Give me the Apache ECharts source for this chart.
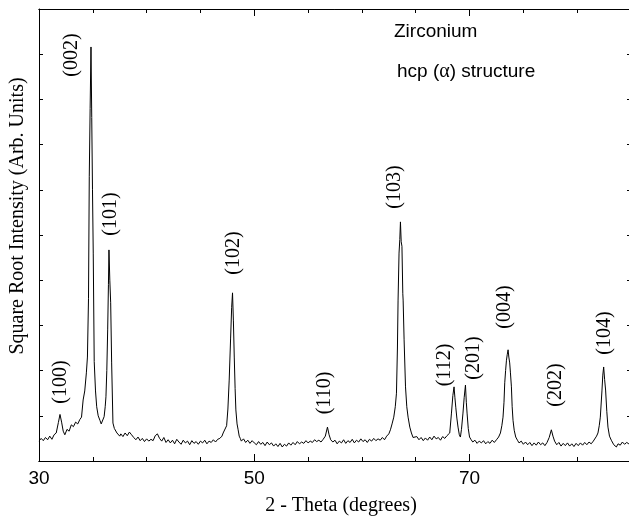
<!DOCTYPE html>
<html>
<head>
<meta charset="utf-8">
<title>Zirconium XRD</title>
<script src="https://cdn.jsdelivr.net/npm/echarts@6/dist/echarts.min.js"></script>
<style>
  html, body { margin: 0; padding: 0; background: #fff; }
  #chart { width: 629px; height: 521px; }
</style>
</head>
<body>
<div id="chart"></div>
<script>
// scan: [2-theta, sqrt intensity]
var scanLow = [
  [30.0,0.44],[30.2,0.50],[30.4,0.45],[30.6,0.52],[30.8,0.47],[31.0,0.55],[31.2,0.48],
  [31.4,0.58],[31.6,0.62],[31.8,0.85],[31.95,1.03],[32.1,0.86],[32.25,0.66],[32.4,0.58],
  [32.6,0.70],[32.8,0.66],[33.0,0.80],[33.2,0.76],[33.4,0.86],[33.6,0.82],[33.8,0.92],
  [33.95,0.97],[34.1,1.35],[34.25,1.55],[34.4,1.95],[34.5,2.3],[34.6,3.6],[34.67,6.3],
  [34.75,7.8],[34.83,9.16],[34.9,7.6],[34.97,6.0],[35.04,4.6],[35.13,2.2],[35.25,1.55],
  [35.36,1.2],[35.5,1.0],[35.66,0.9],[35.78,0.82],[35.85,0.78],[35.95,0.86],[36.05,0.98],
  [36.15,1.2],[36.22,1.42],[36.3,2.0],[36.38,2.9],[36.45,3.9],[36.5,4.67],[36.58,4.0],
  [36.66,3.5],[36.75,2.17],[36.87,0.84],[37.0,0.72],[37.1,0.70],[37.24,0.62],[37.4,0.58],
  [37.5,0.55],[37.6,0.60],[37.8,0.54],[38.0,0.62],[38.2,0.56],[38.4,0.64],[38.6,0.58],
  [38.8,0.52],[39.0,0.47],[39.2,0.53],[39.4,0.45],[39.6,0.50],[39.8,0.43]
];
var scanMid = [
  [40.0,0.49],[40.2,0.44],[40.4,0.48],[40.6,0.45],[40.8,0.56],[41.0,0.60],[41.2,0.50],
  [41.4,0.44],[41.6,0.52],[41.8,0.41],[42.0,0.47],[42.2,0.40],[42.4,0.46],[42.6,0.38],
  [42.8,0.48],[43.0,0.42],[43.2,0.37],[43.4,0.46],[43.6,0.40],[43.8,0.44],[44.0,0.36],
  [44.2,0.45],[44.4,0.39],[44.6,0.43],[44.8,0.37],[45.0,0.44],[45.2,0.40],[45.4,0.46],
  [45.6,0.38],[45.8,0.44],[46.0,0.41],[46.2,0.47],[46.4,0.42],[46.6,0.48],[46.8,0.50],
  [47.0,0.55],[47.11,0.62],[47.25,0.66],[47.43,0.78],[47.55,1.15],[47.67,1.79],[47.8,2.7],
  [47.9,3.4],[47.98,3.72],[48.06,3.1],[48.14,2.3],[48.22,1.6],[48.29,1.13],[48.4,0.82],
  [48.5,0.69],[48.6,0.55],[48.7,0.50],[48.8,0.44],[49.0,0.49],[49.2,0.41],[49.4,0.46],
  [49.6,0.39],[49.8,0.45],[50.0,0.40],[50.2,0.36],[50.4,0.43],[50.6,0.37],[50.8,0.41],
  [51.0,0.34],[51.2,0.42],[51.4,0.36],[51.6,0.40],[51.8,0.33],[52.0,0.38],[52.2,0.32],
  [52.4,0.39],[52.6,0.31],[52.8,0.37],[53.0,0.33],[53.2,0.40],[53.4,0.35],[53.6,0.41],
  [53.8,0.36],[54.0,0.43],[54.2,0.38],[54.4,0.42],[54.6,0.39],[54.8,0.45],[55.0,0.40],
  [55.2,0.44],[55.4,0.41],[55.6,0.47],[55.8,0.43],[56.0,0.46],[56.2,0.42],[56.4,0.48],
  [56.6,0.55],[56.8,0.75],[56.95,0.58],[57.1,0.47],[57.3,0.42],[57.5,0.46],[57.7,0.38],
  [57.9,0.44],[58.1,0.40],[58.3,0.47],[58.5,0.39],[58.7,0.45],[58.9,0.41],[59.1,0.48],
  [59.3,0.40],[59.5,0.46],[59.7,0.42],[59.9,0.49]
];
var scanHigh = [
  [60.1,0.43],[60.3,0.47],[60.5,0.41],[60.7,0.48],[60.9,0.44],[61.1,0.50],[61.3,0.45],
  [61.5,0.49],[61.7,0.46],[61.9,0.52],[62.1,0.47],[62.3,0.55],[62.5,0.60],[62.65,0.69],
  [62.8,0.82],[62.96,0.97],[63.1,1.2],[63.21,1.5],[63.3,2.5],[63.36,3.56],[63.45,4.6],
  [63.52,4.9],[63.58,5.29],[63.65,4.85],[63.72,4.75],[63.8,3.7],[63.83,3.56],[63.92,2.68],
  [64.05,1.64],[64.17,1.2],[64.29,0.97],[64.45,0.75],[64.6,0.62],[64.75,0.52],[64.9,0.48],
  [65.1,0.54],[65.3,0.47],[65.5,0.52],[65.7,0.45],[65.9,0.51],[66.1,0.46],[66.3,0.53],
  [66.5,0.47],[66.7,0.55],[66.9,0.49],[67.1,0.52],[67.3,0.46],[67.5,0.54],[67.7,0.50],
  [67.9,0.56],[68.05,0.58],[68.16,0.62],[68.32,1.06],[68.45,1.45],[68.56,1.64],[68.64,1.4],
  [68.72,1.19],[68.82,0.95],[68.93,0.75],[69.05,0.58],[69.15,0.53],[69.25,0.70],[69.39,1.06],
  [69.5,1.4],[69.62,1.68],[69.7,1.3],[69.77,1.06],[69.88,0.72],[70.0,0.53],[70.15,0.47],
  [70.3,0.42],[70.5,0.46],[70.7,0.39],[70.9,0.44],[71.1,0.40],[71.3,0.45],[71.5,0.38],
  [71.7,0.43],[71.9,0.39],[72.1,0.46],[72.3,0.41],[72.5,0.47],[72.7,0.53],[72.87,0.62],
  [73.0,0.78],[73.11,0.97],[73.2,1.3],[73.27,1.73],[73.35,2.0],[73.43,2.23],[73.5,2.35],
  [73.58,2.46],[73.65,2.3],[73.73,2.17],[73.8,1.95],[73.89,1.64],[73.96,1.2],[74.04,0.9],
  [74.15,0.68],[74.29,0.53],[74.45,0.46],[74.6,0.40],[74.8,0.44],[75.0,0.37],[75.2,0.42],
  [75.4,0.36],[75.6,0.41],[75.8,0.34],[76.0,0.40],[76.2,0.35],[76.4,0.42],[76.6,0.36],
  [76.8,0.40],[77.0,0.34],[77.2,0.41],[77.4,0.52],[77.6,0.69],[77.75,0.55],[77.9,0.44],
  [78.1,0.36],[78.3,0.41],[78.5,0.33],[78.7,0.39],[78.9,0.34],[79.1,0.40],[79.3,0.33],
  [79.5,0.38],[79.7,0.32],[79.9,0.39],[80.1,0.34],[80.3,0.40],[80.5,0.35],[80.7,0.41],
  [80.9,0.36],[81.1,0.42],[81.3,0.38],[81.5,0.44],[81.62,0.46],[81.8,0.55],[81.93,0.62],
  [82.05,0.78],[82.15,0.97],[82.3,1.55],[82.38,1.9],[82.46,2.08],[82.55,1.8],[82.64,1.57],
  [82.75,1.1],[82.86,0.75],[83.0,0.55],[83.17,0.46],[83.4,0.36],[83.64,0.31],[83.8,0.38],
  [84.0,0.35],[84.2,0.42],[84.4,0.37],[84.6,0.41],[84.8,0.38],[85.0,0.40]
];

var xTickLabels = [30, 50, 70];
var peakLabels = ['(100)', '(002)', '(101)', '(102)', '(110)', '(103)',
                  '(112)', '(201)', '(004)', '(202)', '(104)'];
// where each peak label sits on the page (centre, px)
var peakLabelPos = [[61, 382], [72, 55], [111, 214], [234, 253], [325, 393], [395, 187],
                    [445, 365], [474, 358], [505, 307], [556, 385], [605, 333]];

var scan = scanLow.concat(scanMid, scanHigh);

var serif = '"Liberation Serif", "Times New Roman", serif';
var sans = '"Liberation Sans", Arial, sans-serif';

var chart = echarts.init(document.getElementById('chart'));

function xAxisDef(pos, interval, tickLen, labels) {
  return {
    type: 'value', position: pos, min: 30, max: 85, interval: interval,
    axisLine: { show: true, lineStyle: { color: '#000', width: 1 } },
    axisTick: { show: true, inside: true, length: tickLen, lineStyle: { color: '#000' } },
    axisLabel: {
      show: labels, margin: 8, color: '#000', fontFamily: sans, fontSize: 19,
      formatter: function (v) { return xTickLabels.indexOf(v) >= 0 ? String(v) : ''; }
    },
    splitLine: { show: false }
  };
}

function yAxisDef(pos, line) {
  return {
    type: 'value', position: pos, min: 0, max: 10, interval: 1,
    axisLine: { show: line, lineStyle: { color: '#000', width: 1 } },
    axisTick: { show: true, inside: true, length: 4, lineStyle: { color: '#000' } },
    axisLabel: { show: false },
    splitLine: { show: false }
  };
}

var graphics = peakLabels.map(function (t, i) {
  return {
    type: 'text', x: peakLabelPos[i][0], y: peakLabelPos[i][1], rotation: Math.PI / 2,
    style: { text: t, font: '20px ' + serif, fill: '#000', textAlign: 'center', textVerticalAlign: 'middle' }
  };
});
graphics.push(
  { type: 'text', x: 394, y: 32,
    style: { text: 'Zirconium', font: '19px ' + sans, fill: '#000', textVerticalAlign: 'middle' } },
  { type: 'text', x: 397, y: 72,
    style: {
      text: '{a|hcp (}{b|α}{a|) structure}', textVerticalAlign: 'middle',
      rich: {
        a: { fontFamily: sans, fontSize: 19, fill: '#000' },
        b: { fontFamily: serif, fontSize: 20, fill: '#000' }
      }
    } },
  { type: 'text', x: 18, y: 216, rotation: Math.PI / 2,
    style: { text: 'Square Root Intensity (Arb. Units)', font: '20px ' + serif, fill: '#000',
             textAlign: 'center', textVerticalAlign: 'middle' } },
  { type: 'text', x: 341, y: 506,
    style: { text: '2 - Theta (degrees)', font: '20px ' + serif, fill: '#000',
             textAlign: 'center', textVerticalAlign: 'middle' } }
);

var option = {
  backgroundColor: '#fff',
  animation: false,
  grid: { left: 39, top: 9, right: -2, bottom: 60, containLabel: false, outerBoundsMode: 'none' },
  xAxis: [
    xAxisDef('bottom', 5, 4, false),
    xAxisDef('bottom', 20, 7, true),
    xAxisDef('top', 5, 4, false),
    xAxisDef('top', 20, 7, false)
  ],
  yAxis: [yAxisDef('left', true), yAxisDef('right', false)],
  graphic: graphics,
  series: [{
    type: 'line',
    xAxisIndex: 0,
    yAxisIndex: 0,
    data: scan,
    showSymbol: false,
    symbol: 'none',
    lineStyle: { color: '#000', width: 1 }
  }]
};

chart.setOption(option);
</script>
</body>
</html>
